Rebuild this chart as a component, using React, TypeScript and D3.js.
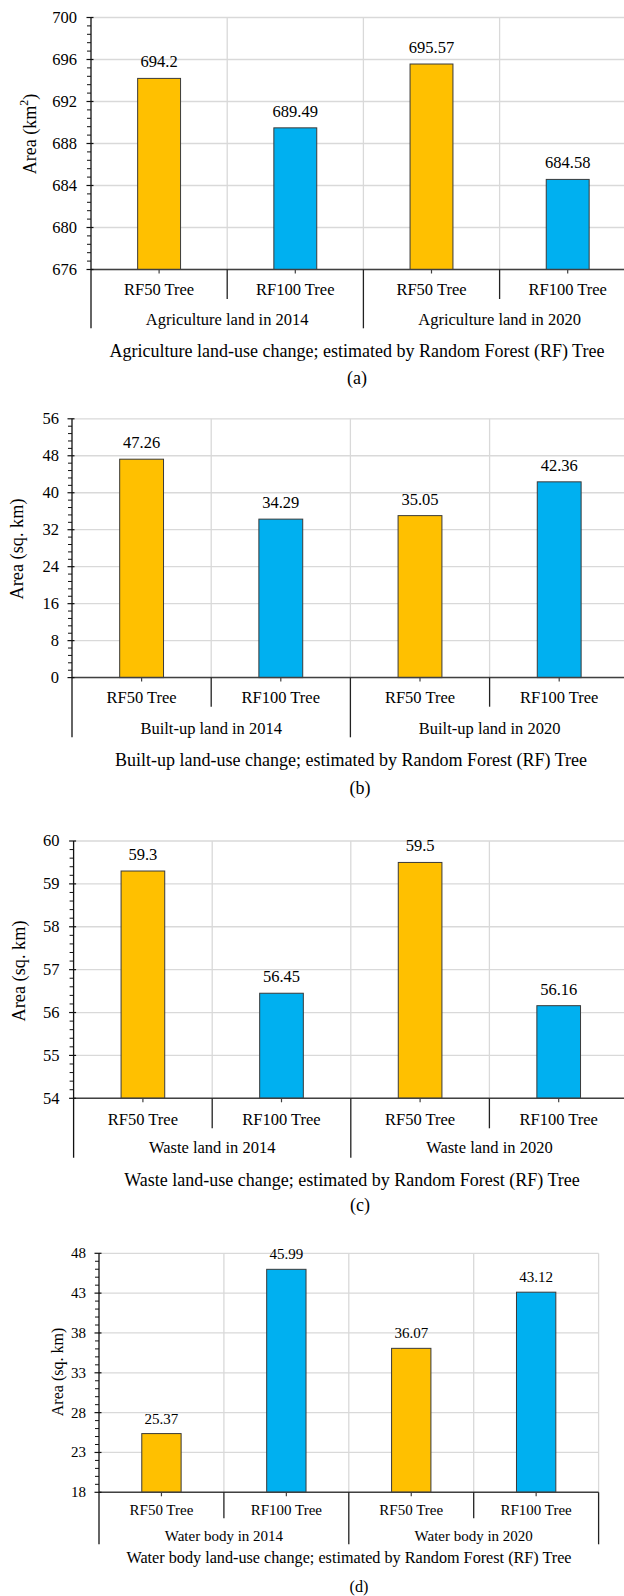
import React from 'react';
import * as d3 from 'd3';

// ---------- data ----------
const treeCategories = ["RF50 Tree", "RF100 Tree", "RF50 Tree", "RF100 Tree"];
const seriesColors = ["#FFC000", "#00B0F0", "#FFC000", "#00B0F0"];

const agriGroups = ["Agriculture land in 2014", "Agriculture land in 2020"];
const agriValues = [694.2, 689.49, 695.57, 684.58];
const agriTicks = [676, 680, 684, 688, 692, 696, 700];
const agriTitle = "Agriculture land-use change; estimated by Random Forest (RF) Tree";

const builtGroups = ["Built-up land in 2014", "Built-up land in 2020"];
const builtValues = [47.26, 34.29, 35.05, 42.36];
const builtTicks = [0, 8, 16, 24, 32, 40, 48, 56];
const builtTitle = "Built-up land-use change; estimated by Random Forest (RF) Tree";

const wasteGroups = ["Waste land in 2014", "Waste land in 2020"];
const wasteValues = [59.3, 56.45, 59.5, 56.16];
const wasteTicks = [54, 55, 56, 57, 58, 59, 60];
const wasteTitle = "Waste land-use change; estimated by Random Forest (RF) Tree";

const waterGroups = ["Water body in 2014", "Water body in 2020"];
const waterValues = [25.37, 45.99, 36.07, 43.12];
const waterTicks = [18, 23, 28, 33, 38, 43, 48];
const waterTitle = "Water body land-use change; estimated by Random Forest (RF) Tree";

const FONT = "'Liberation Serif', 'Times New Roman', serif";

type Layout = {
  left: number; top: number; bottom: number; catW: number;
  font: number; titleFont: number; yTitleFont: number;
  catBase: number; innerSep: number; groupBase: number; outerSep: number;
  titleBase: number; titleX: number; letterBase: number; letterX: number;
  yTitleX: number; yTitleY: number; valueGap: number; labelGap: number;
};

function Panel({ values, groups, ticks, title, letter, yLabel, L }: {
  values: number[]; groups: string[]; ticks: number[]; title: string; letter: string;
  yLabel: React.ReactNode; L: Layout;
}) {
  const right = L.left + L.catW * treeCategories.length;
  const x = d3.scaleBand<number>().domain(d3.range(treeCategories.length)).range([L.left, right]).padding(0);
  const y = d3.scaleLinear().domain([ticks[0], ticks[ticks.length - 1]]).range([L.bottom, L.top]);
  const bw = x.bandwidth();
  const barW = bw * 0.315;
  const step = ticks[1] - ticks[0];
  const minor: number[] = [];
  for (let i = 0; i < ticks.length - 1; i++) {
    for (let k = 1; k < 5; k++) minor.push(ticks[i] + (step * k) / 5);
  }
  const groupW = bw * 2;
  return (
    <g fontFamily={FONT} fill="#000">
      {/* horizontal gridlines */}
      {ticks.map((t) => (
        <line key={'h' + t} x1={L.left} x2={right} y1={y(t)} y2={y(t)} stroke="#d9d9d9" strokeWidth={1.3} />
      ))}
      {/* vertical gridlines */}
      {d3.range(1, treeCategories.length + 1).map((i) => (
        <line key={'v' + i} x1={L.left + i * bw} x2={L.left + i * bw} y1={L.top} y2={L.bottom} stroke="#d9d9d9" strokeWidth={1.3} />
      ))}
      {/* bars */}
      {values.map((v, i) => (
        <rect key={'b' + i} x={(x(i) as number) + (bw - barW) / 2} y={y(v)} width={barW} height={L.bottom - y(v)}
          fill={seriesColors[i]} stroke="#3a3a3a" strokeWidth={1} />
      ))}
      {/* value labels */}
      {values.map((v, i) => (
        <text key={'vl' + i} x={(x(i) as number) + bw / 2} y={y(v) - L.valueGap} textAnchor="middle" fontSize={L.font}>
          {String(v)}
        </text>
      ))}
      {/* x axis */}
      <line x1={L.left} x2={right} y1={L.bottom} y2={L.bottom} stroke="#404040" strokeWidth={1.5} />
      {d3.range(treeCategories.length).map((i) => (
        <line key={'xt' + i} x1={(x(i) as number) + bw / 2} x2={(x(i) as number) + bw / 2} y1={L.bottom} y2={L.bottom + 4}
          stroke="#404040" strokeWidth={1.2} />
      ))}
      {/* separators */}
      {d3.range(1, treeCategories.length + 1).map((i) => (
        <line key={'s' + i} x1={L.left + i * bw} x2={L.left + i * bw} y1={L.bottom} y2={i % 2 === 0 ? L.outerSep : L.innerSep}
          stroke="#222" strokeWidth={1.3} />
      ))}
      {/* y axis */}
      <line x1={L.left} x2={L.left} y1={L.top} y2={L.outerSep} stroke="#111" strokeWidth={1.3} />
      {ticks.map((t) => (
        <line key={'mt' + t} x1={L.left - 4.5} x2={L.left + 2.5} y1={y(t)} y2={y(t)} stroke="#111" strokeWidth={1.2} />
      ))}
      {minor.map((t, i) => (
        <line key={'mn' + i} x1={L.left - 4} x2={L.left} y1={y(t)} y2={y(t)} stroke="#111" strokeWidth={1} />
      ))}
      {ticks.map((t) => (
        <text key={'tl' + t} x={L.left - L.labelGap} y={y(t) + L.font * 0.33} textAnchor="end" fontSize={L.font}>
          {String(t)}
        </text>
      ))}
      {/* category labels */}
      {treeCategories.map((c, i) => (
        <text key={'c' + i} x={(x(i) as number) + bw / 2} y={L.catBase} textAnchor="middle" fontSize={L.font}>{c}</text>
      ))}
      {groups.map((g, i) => (
        <text key={'g' + i} x={L.left + groupW * i + groupW / 2} y={L.groupBase} textAnchor="middle" fontSize={L.font}>{g}</text>
      ))}
      <text x={L.titleX} y={L.titleBase} textAnchor="middle" fontSize={L.titleFont}>{title}</text>
      <text x={L.letterX} y={L.letterBase} textAnchor="middle" fontSize={L.titleFont}>{letter}</text>
      <text transform={`translate(${L.yTitleX},${L.yTitleY}) rotate(-90)`} textAnchor="middle" dominantBaseline="central"
        fontSize={L.yTitleFont}>{yLabel}</text>
    </g>
  );
}

const layoutA: Layout = {
  left: 91, top: 17.5, bottom: 269.5, catW: 136.2, font: 16.5, titleFont: 18, yTitleFont: 18,
  catBase: 295, innerSep: 299, groupBase: 324.5, outerSep: 328.3, titleBase: 357, titleX: 357,
  letterBase: 384, letterX: 357, yTitleX: 30, yTitleY: 134, valueGap: 11, labelGap: 14,
};
const layoutB: Layout = {
  left: 72, top: 418.8, bottom: 677.6, catW: 139.2, font: 16.5, titleFont: 18, yTitleFont: 18.3,
  catBase: 703, innerSep: 706.7, groupBase: 734, outerSep: 737.3, titleBase: 766, titleX: 351,
  letterBase: 794, letterX: 360, yTitleX: 17, yTitleY: 549, valueGap: 11, labelGap: 13,
};
const layoutC: Layout = {
  left: 73.6, top: 841, bottom: 1098.3, catW: 138.6, font: 16.5, titleFont: 18, yTitleFont: 18.3,
  catBase: 1124.7, innerSep: 1128.3, groupBase: 1153.4, outerSep: 1157.7, titleBase: 1186, titleX: 352,
  letterBase: 1211, letterX: 360, yTitleX: 19, yTitleY: 971, valueGap: 11, labelGap: 14,
};
const layoutD: Layout = {
  left: 99, top: 1253.3, bottom: 1492.3, catW: 124.9, font: 15, titleFont: 16.2, yTitleFont: 16,
  catBase: 1514.5, innerSep: 1518.3, groupBase: 1541, outerSep: 1544.3, titleBase: 1563.3, titleX: 349,
  letterBase: 1591.5, letterX: 359, yTitleX: 57.7, yTitleY: 1372, valueGap: 10, labelGap: 13,
};

export default function App() {
  return (
    <svg width={624} height={1596} style={{ position: 'absolute', left: 0, top: 0, background: '#fff' }}>
      <rect x={0} y={0} width={624} height={1596} fill="#fff" />
      <Panel values={agriValues} groups={agriGroups} ticks={agriTicks} title={agriTitle} letter="(a)" L={layoutA}
        yLabel={<><tspan>Area (km</tspan><tspan dy={-6} fontSize={12}>2</tspan><tspan dy={6}>)</tspan></>} />
      <Panel values={builtValues} groups={builtGroups} ticks={builtTicks} title={builtTitle} letter="(b)" L={layoutB}
        yLabel="Area (sq. km)" />
      <Panel values={wasteValues} groups={wasteGroups} ticks={wasteTicks} title={wasteTitle} letter="(c)" L={layoutC}
        yLabel="Area (sq. km)" />
      <Panel values={waterValues} groups={waterGroups} ticks={waterTicks} title={waterTitle} letter="(d)" L={layoutD}
        yLabel="Area (sq. km)" />
    </svg>
  );
}
